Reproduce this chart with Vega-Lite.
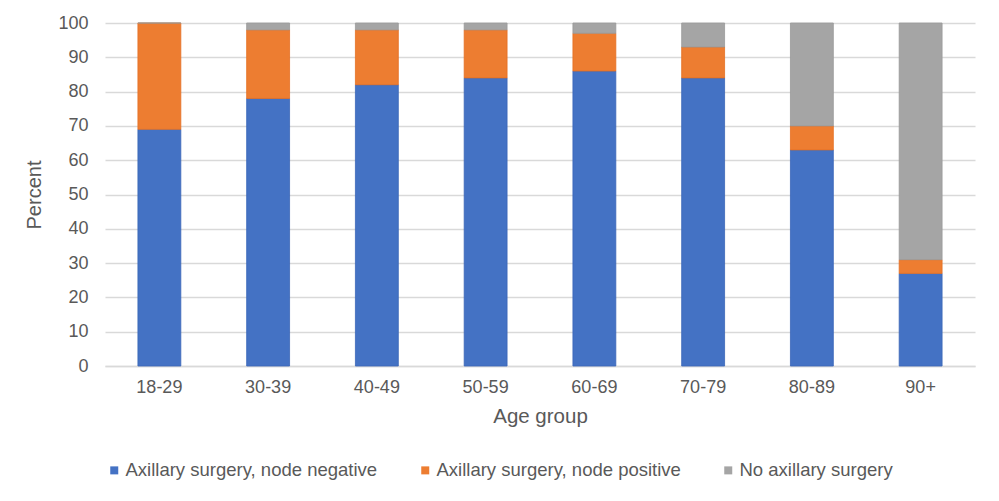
{
  "$schema": "https://vega.github.io/schema/vega-lite/v6.json",
  "autosize": {"type": "none"},
  "width": 870,
  "height": 343,
  "padding": {"left": 105, "top": 23, "right": 24, "bottom": 135},
  "background": "white",
  "config": {
    "view": {"stroke": null},
    "font": "Liberation Sans",
    "axis": {"labelFont": "Liberation Sans", "titleFont": "Liberation Sans", "labelColor": "#595959", "titleColor": "#595959", "titleFontWeight": "normal"},
    "legend": {"labelFont": "Liberation Sans"}
  },
  "data": {
    "values": [
      {"age": "18-29", "category": "Axillary surgery, node negative", "k": 1, "pct": 69},
      {"age": "18-29", "category": "Axillary surgery, node positive", "k": 2, "pct": 31},
      {"age": "18-29", "category": "No axillary surgery", "k": 3, "pct": 0},
      {"age": "30-39", "category": "Axillary surgery, node negative", "k": 1, "pct": 78},
      {"age": "30-39", "category": "Axillary surgery, node positive", "k": 2, "pct": 20},
      {"age": "30-39", "category": "No axillary surgery", "k": 3, "pct": 2},
      {"age": "40-49", "category": "Axillary surgery, node negative", "k": 1, "pct": 82},
      {"age": "40-49", "category": "Axillary surgery, node positive", "k": 2, "pct": 16},
      {"age": "40-49", "category": "No axillary surgery", "k": 3, "pct": 2},
      {"age": "50-59", "category": "Axillary surgery, node negative", "k": 1, "pct": 84},
      {"age": "50-59", "category": "Axillary surgery, node positive", "k": 2, "pct": 14},
      {"age": "50-59", "category": "No axillary surgery", "k": 3, "pct": 2},
      {"age": "60-69", "category": "Axillary surgery, node negative", "k": 1, "pct": 86},
      {"age": "60-69", "category": "Axillary surgery, node positive", "k": 2, "pct": 11},
      {"age": "60-69", "category": "No axillary surgery", "k": 3, "pct": 3},
      {"age": "70-79", "category": "Axillary surgery, node negative", "k": 1, "pct": 84},
      {"age": "70-79", "category": "Axillary surgery, node positive", "k": 2, "pct": 9},
      {"age": "70-79", "category": "No axillary surgery", "k": 3, "pct": 7},
      {"age": "80-89", "category": "Axillary surgery, node negative", "k": 1, "pct": 63},
      {"age": "80-89", "category": "Axillary surgery, node positive", "k": 2, "pct": 7},
      {"age": "80-89", "category": "No axillary surgery", "k": 3, "pct": 30},
      {"age": "90+", "category": "Axillary surgery, node negative", "k": 1, "pct": 27},
      {"age": "90+", "category": "Axillary surgery, node positive", "k": 2, "pct": 4},
      {"age": "90+", "category": "No axillary surgery", "k": 3, "pct": 69}
    ]
  },
  "mark": {"type": "bar", "strokeWidth": 0.8},
  "encoding": {
    "x": {
      "field": "age",
      "type": "nominal",
      "sort": null,
      "scale": {"paddingInner": 0.6055, "paddingOuter": 0.3027},
      "axis": {
        "title": "Age group",
        "titleFontSize": 20.5,
        "titlePadding": 10,
        "labelFontSize": 18,
        "labelAngle": 0,
        "labelPadding": 12,
        "ticks": false,
        "domainColor": "#d9d9d9",
        "domainWidth": 1.5
      }
    },
    "y": {
      "field": "pct",
      "type": "quantitative",
      "stack": "zero",
      "scale": {"domain": [0, 100], "nice": false},
      "axis": {
        "title": "Percent",
        "titleFontSize": 20,
        "titlePadding": 13,
        "labelFontSize": 18,
        "labelPadding": 17,
        "values": [0, 10, 20, 30, 40, 50, 60, 70, 80, 90, 100],
        "ticks": false,
        "domain": false,
        "gridColor": "#d9d9d9",
        "gridWidth": 1.5
      }
    },
    "color": {
      "field": "category",
      "type": "nominal",
      "scale": {
        "domain": ["Axillary surgery, node negative", "Axillary surgery, node positive", "No axillary surgery"],
        "range": ["#4472C4", "#ED7D31", "#A5A5A5"]
      },
      "legend": {
        "title": null,
        "orient": "none",
        "legendX": 0,
        "legendY": 438,
        "direction": "horizontal",
        "symbolType": "square",
        "symbolSize": 64,
        "symbolStrokeWidth": 0,
        "labelFontSize": 18.5,
        "labelColor": "#595959",
        "labelLimit": 400,
        "columnPadding": 38,
        "labelOffset": 2
      }
    },
    "stroke": {
      "field": "category",
      "type": "nominal",
      "scale": {
        "domain": ["Axillary surgery, node negative", "Axillary surgery, node positive", "No axillary surgery"],
        "range": ["#3a66b8", "#e46f22", "#999999"]
      },
      "legend": null
    },
    "order": {"field": "k", "type": "quantitative"}
  }
}
